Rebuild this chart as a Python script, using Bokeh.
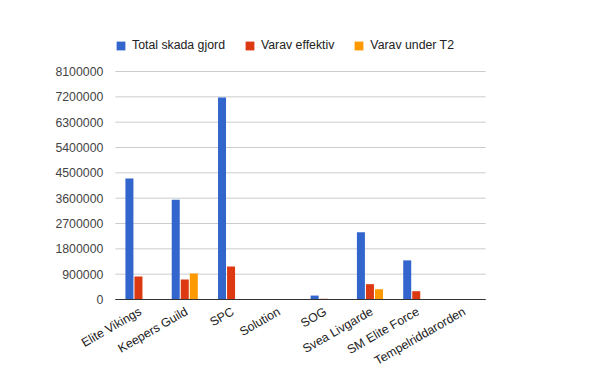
import math
from bokeh.plotting import figure
from bokeh.models import (ColumnDataSource, FactorRange, Range1d, Legend, LegendItem)
from bokeh.core.properties import value
from bokeh.transform import dodge
from bokeh.embed import file_html
from bokeh.resources import INLINE

categories = ["Elite Vikings", "Keepers Guild", "SPC", "Solution", "SOG",
              "Svea Livgarde", "SM Elite Force", "Tempelriddarorden"]
total_skada = [4295000, 3540000, 7180000, 0, 140000, 2390000, 1390000, 0]
varav_effektiv = [820000, 710000, 1170000, 0, 25000, 545000, 295000, 0]
varav_t2 = [0, 925000, 0, 0, 0, 365000, 0, 0]
y_ticks = [0, 900000, 1800000, 2700000, 3600000, 4500000, 5400000, 6300000, 7200000, 8100000]
y_tick_labels = [str(t) for t in y_ticks]
series_names = ["Total skada gjord", "Varav effektiv", "Varav under T2"]
colors = ["#3366cc", "#dc3912", "#ff9900"]

# layout (pixels inside the canvas)
W, H = 600, 371
PLOT_L, PLOT_R = 115, 486   # horizontal extent of the plotting area
ZERO_PX = 299               # y pixel of value 0
TOP_PX = 71                 # y pixel of the top tick
n = len(categories)
unit_px = (PLOT_R - PLOT_L) / n
pad_units = PLOT_L / unit_px
y_max = y_ticks[-1]
upp = y_max / (ZERO_PX - TOP_PX)     # data units per pixel
y_start = -(H - ZERO_PX) * upp
y_end = y_max + TOP_PX * upp

FONT = value("Liberation Sans")

src = ColumnDataSource(dict(cat=categories, total=total_skada, eff=varav_effektiv, t2=varav_t2))
grid_src = ColumnDataSource(dict(y=y_ticks, label=y_tick_labels,
                                 first=[categories[0]] * len(y_ticks),
                                 last=[categories[-1]] * len(y_ticks)))

xr = FactorRange(*categories, range_padding=pad_units, range_padding_units="absolute")
p = figure(x_range=xr, y_range=Range1d(y_start, y_end),
           width=W, height=H, output_backend="svg", toolbar_location=None,
           min_border=0)
p.outline_line_color = None
p.axis.visible = False
p.grid.grid_line_color = None

# gridlines
p.segment(x0=dodge("first", -0.5, range=xr), x1=dodge("last", 0.5, range=xr),
          y0="y", y1="y", source=grid_src, line_color="#cccccc", line_width=1)

w = 0.173
off = 0.195
r1 = p.vbar(x=dodge("cat", -off, range=xr), top="total", width=w, source=src,
            color=colors[0], line_color=None)
r2 = p.vbar(x=dodge("cat", 0.0, range=xr), top="eff", width=w, source=src,
            color=colors[1], line_color=None)
r3 = p.vbar(x=dodge("cat", off, range=xr), top="t2", width=w, source=src,
            color=colors[2], line_color=None)

# baseline
p.segment(x0=dodge("first", -0.5, range=xr), x1=dodge("last", 0.5, range=xr),
          y0=0, y1=0, source=ColumnDataSource(dict(first=[categories[0]], last=[categories[-1]])),
          line_color="#333333", line_width=1)

# y tick labels
p.text(x=dodge("first", -0.5, range=xr), y="y", text="label", source=grid_src,
       x_offset=-12, text_align="right", text_baseline="middle",
       text_font=FONT, text_font_size="12.3px", text_color="#444444")

# category labels under the baseline
p.text(x=dodge("cat", 0.04, range=xr), y=0, text="cat", source=src,
       angle=math.pi / 6, text_align="right", text_baseline="middle",
       y_offset=11, text_font=FONT, text_font_size="12.3px", text_color="#222222")

legend = Legend(items=[LegendItem(label=series_names[0], renderers=[r1]),
                       LegendItem(label=series_names[1], renderers=[r2]),
                       LegendItem(label=series_names[2], renderers=[r3])],
                orientation="horizontal", location=(PLOT_L, H - 52))
legend.label_text_font = "Liberation Sans"
legend.label_text_font_size = "12.3px"
legend.label_text_color = "#222222"
legend.glyph_width = 11
legend.glyph_height = 11
legend.spacing = 19
legend.label_standoff = 6
legend.border_line_color = None
legend.background_fill_alpha = 0
legend.padding = 0
legend.margin = 0
p.add_layout(legend, "center")

open("out.html", "w").write(file_html(p, INLINE))
